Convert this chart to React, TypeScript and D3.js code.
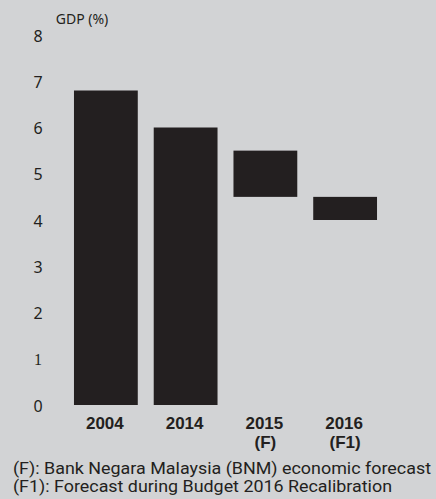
import React from "react";
import * as d3 from "d3";

const categories = ["2004", "2014", "2015", "2016"];
const subLabels = ["", "", "(F)", "(F1)"];
const lowValues = [0, 0, 4.5, 4.0];
const highValues = [6.8, 6.0, 5.5, 4.5];
const yTicks = [0, 1, 2, 3, 4, 5, 6, 7, 8];
const footnotes = [
  "(F): Bank Negara Malaysia (BNM) economic forecast",
  "(F1): Forecast during Budget 2016 Recalibration",
];

const W = 436;
const H = 499;
const BG = "#d2d3d5";
const INK = "#231f20";

export default function App() {
  const x = d3
    .scaleBand<string>()
    .domain(categories)
    .range([66, 385])
    .paddingInner(0.2)
    .paddingOuter(0.1);
  const y = d3.scaleLinear().domain([0, 8]).range([405, 35]);
  const footWidths = [418, 379];

  return (
    <svg
      width={W}
      height={H}
      style={{ position: "absolute", top: 0, left: 0, display: "block" }}
    >
      <rect x={0} y={0} width={W} height={H} fill={BG} />
      <text
        x={82}
        y={24}
        textAnchor="middle"
        fontFamily="'Noto Sans', sans-serif"
        fontSize={14}
        fill={INK}
      >
        GDP (%)
      </text>
      {yTicks.map((t) => (
        <text
          key={t}
          x={38}
          y={y(t) + 6.5}
          textAnchor="middle"
          fontFamily={t === 1 ? "'Liberation Serif', serif" : "'Noto Sans', sans-serif"}
          fontSize={16}
          fill={INK}
        >
          {t}
        </text>
      ))}
      {categories.map((c, i) => (
        <rect
          key={c}
          x={x(c)}
          y={y(highValues[i])}
          width={x.bandwidth()}
          height={y(lowValues[i]) - y(highValues[i])}
          fill={INK}
        />
      ))}
      {categories.map((c, i) => (
        <g key={"l" + c}>
          <text
            x={(x(c) as number) + x.bandwidth() / 2 - 1}
            y={428.5}
            textAnchor="middle"
            fontFamily="'Liberation Sans', Arial, sans-serif"
            fontWeight="bold"
            fontSize={17}
            fill={INK}
          >
            {c}
          </text>
          {subLabels[i] && (
            <text
              x={(x(c) as number) + x.bandwidth() / 2}
              y={448}
              textAnchor="middle"
              fontFamily="'Liberation Sans', Arial, sans-serif"
              fontWeight="bold"
              fontSize={17}
              fill={INK}
            >
              {subLabels[i]}
            </text>
          )}
        </g>
      ))}
      {footnotes.map((f, i) => (
        <text
          key={f}
          x={13}
          y={473.5 + i * 18.5}
          fontFamily="Roboto, 'Noto Sans', sans-serif"
          fontSize={16}
          fill={INK}
          textLength={footWidths[i]}
          lengthAdjust="spacingAndGlyphs"
        >
          {f}
        </text>
      ))}
    </svg>
  );
}
